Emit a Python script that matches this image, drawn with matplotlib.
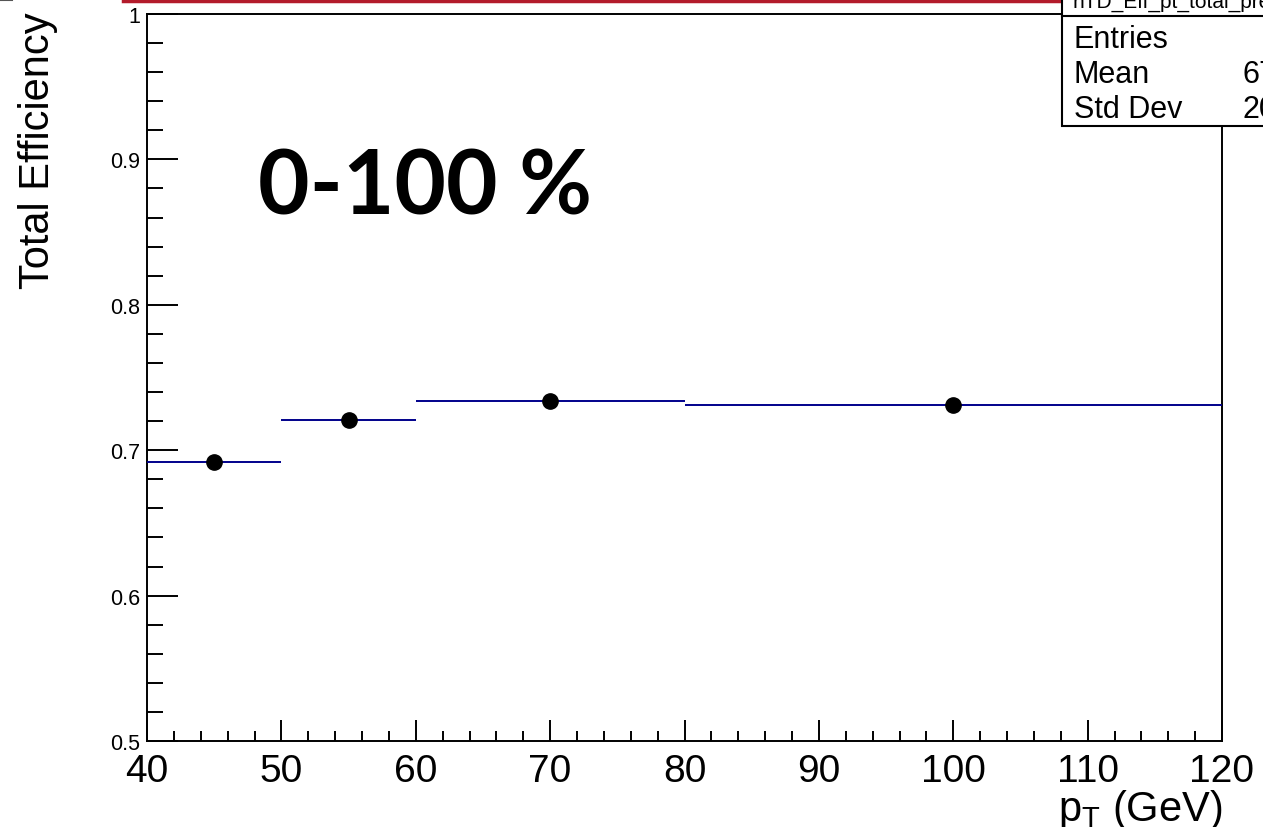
import matplotlib
matplotlib.use('Agg')
import matplotlib.pyplot as plt
from matplotlib.ticker import MultipleLocator, FixedLocator
from matplotlib.patches import Rectangle
from matplotlib.lines import Line2D
import numpy as np

plt.rcParams['font.family'] = ['Liberation Sans', 'DejaVu Sans']
plt.rcParams['mathtext.fontset'] = 'custom'
plt.rcParams['mathtext.rm'] = 'Liberation Sans'
plt.rcParams['mathtext.it'] = 'Liberation Sans'

# pT bins and total efficiency per bin
bin_lo = [40, 50, 60, 80]
bin_hi = [50, 60, 80, 120]
eff = [0.692, 0.721, 0.734, 0.731]

stat_names = ['Entries', 'Mean', 'Std Dev']
stat_vals = ['', '67.52', '20.31']

lo = np.array(bin_lo)
hi = np.array(bin_hi)
xc = (lo + hi) / 2
xw = (hi - lo) / 2

W, H = 1263, 828
fig = plt.figure(figsize=(W / 100, H / 100), dpi=100)
ax = fig.add_axes([147 / W, 1 - 742 / H, (1222 - 147) / W, (742 - 15) / H])

ax.errorbar(xc, eff, xerr=xw, fmt='o', color='black', ms=11,
            ecolor='#00008b', elinewidth=1.4, capsize=0, zorder=3)

ax.set_xlim(40, 120)
ax.set_ylim(0.5, 1.0)

ax.xaxis.set_major_locator(MultipleLocator(10))
ax.xaxis.set_minor_locator(MultipleLocator(2))
ax.yaxis.set_major_locator(FixedLocator([0.5, 0.6, 0.7, 0.8, 0.9, 1.0]))
ax.yaxis.set_minor_locator(MultipleLocator(0.02))
ax.set_yticklabels(['0.5', '0.6', '0.7', '0.8', '0.9', '1'])

ax.tick_params(axis='x', which='major', direction='in', length=15, width=1.4,
               labelsize=28, pad=9, top=False)
ax.tick_params(axis='x', which='minor', direction='in', length=7.5, width=1.4, top=False)
ax.tick_params(axis='y', which='major', direction='in', length=22, width=1.4,
               labelsize=15.5, pad=5, right=False)
ax.tick_params(axis='y', which='minor', direction='in', length=11.5, width=1.4, right=False)
for s in ax.spines.values():
    s.set_linewidth(1.4)

ax.text(0.1033, 0.725, '0-100 %', transform=ax.transAxes, fontsize=64,
        fontweight='bold', family=['Lato', 'DejaVu Sans'], va='baseline', ha='left')

fig.text(38 / W, 1 - 12 / H, 'Total Efficiency', rotation=90, va='top',
         ha='center', fontsize=30)
fig.text(1222 / W, 1 - 821 / H, r'p$_{\mathrm{T}}$ (GeV)', va='baseline',
         ha='right', fontsize=30)

# statistics box in the top-right corner
box = Rectangle((1062 / W, 1 - 127 / H), 300 / W, 140 / H, transform=fig.transFigure,
                facecolor='white', edgecolor='black', lw=1.5, zorder=5)
fig.add_artist(box)
fig.add_artist(Line2D([1062 / W, 1], [1 - 17 / H, 1 - 17 / H], transform=fig.transFigure,
                      color='black', lw=1.5, zorder=6))
fig.text(1072 / W, 1 - 8 / H, 'hTD_Eff_pt_total_pre', fontsize=15, va='baseline',
         ha='left', zorder=7)
for i, (n, v) in enumerate(zip(stat_names, stat_vals)):
    yb = 1 - (48 + 35 * i) / H
    fig.text(1074 / W, yb, n, fontsize=22, va='baseline', ha='left', zorder=7)
    fig.text(1242 / W, yb, v, fontsize=22, va='baseline', ha='left', zorder=7)

# slide decorations along the top edge
fig.add_artist(Line2D([123 / W, 1], [1 - 1.5 / H, 1 - 1.5 / H], transform=fig.transFigure,
                      color='#b31b2b', lw=2.5))
fig.add_artist(Line2D([0, 12 / W], [1 - 1 / H, 1 - 1 / H], transform=fig.transFigure,
                      color='#555555', lw=1.5))

fig.savefig('out.png', dpi=100)
